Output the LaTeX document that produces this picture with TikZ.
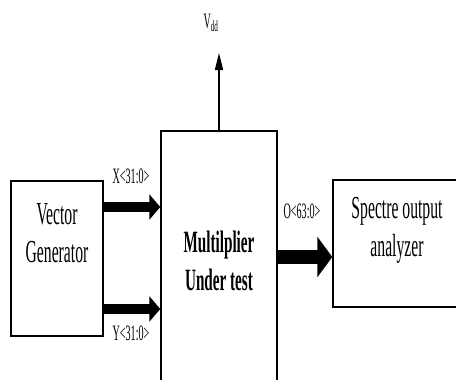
\documentclass[tikz,border=0pt]{standalone}
\usepackage{fontspec}
\newfontfamily\narrowfont[FakeStretch=0.49]{Liberation Serif}
\newfontfamily\labelfont[FakeStretch=0.46]{Liberation Serif}
\usetikzlibrary{arrows.meta,positioning}

\begin{document}
\begin{tikzpicture}[
    x=1pt, y=-1pt,
    every node/.style={font=\narrowfont\fontsize{32}{38}\selectfont},
    blockbox/.style={draw, line width=1.4pt, inner sep=0pt},
    buslabel/.style={font=\labelfont\fontsize{22}{24}\selectfont},
    bus/.style={line width=10pt, -{Triangle[length=11pt,width=25pt]}},
    widebus/.style={line width=14pt, -{Triangle[length=15pt,width=40pt]}},
    power/.style={line width=1.5pt, -{Triangle[length=17pt,width=8pt]}}
]
\useasboundingbox (0,0) rectangle (456,380);
\clip (0,0) rectangle (456,380);

\node[blockbox, minimum width=92pt, minimum height=155pt] (vecgen) at (57,258.5) {};
\node[align=center] (vecgentext) at (57,233) {Vector\\Generator};

\node[blockbox, minimum width=116pt, minimum height=260pt, align=center, font=\narrowfont\bfseries\fontsize{31}{38}\selectfont] (mult) at (219,261) {Multilplier\\Under test};

\node[blockbox, minimum width=127pt, minimum height=127pt] (spectre) at (396.5,243.5) {};
\node[align=center] (spectretext) at (397,230) {Spectre output\\analyzer};

\coordinate (vddtip) at (219,53);
\node[buslabel] (vdd) at (211,23) {V\textsubscript{dd}};
\draw[power] (mult.north) -- (vddtip);

\draw[bus] ([yshift=51.5pt]vecgen.east) -- ([yshift=51.5pt]vecgen.east -| mult.west);
\draw[bus] ([yshift=-50.5pt]vecgen.east) -- ([yshift=-50.5pt]vecgen.east -| mult.west);
\draw[widebus] ([yshift=4pt]mult.east) -- ([yshift=4pt]mult.east -| spectre.west);

\node[buslabel] (xlabel) at (131,176) {X<31:0>};
\node[buslabel] (ylabel) at (131,333) {Y<31:0>};
\node[buslabel] (olabel) at (302,211) {O<63:0>};
\end{tikzpicture}
\end{document}
